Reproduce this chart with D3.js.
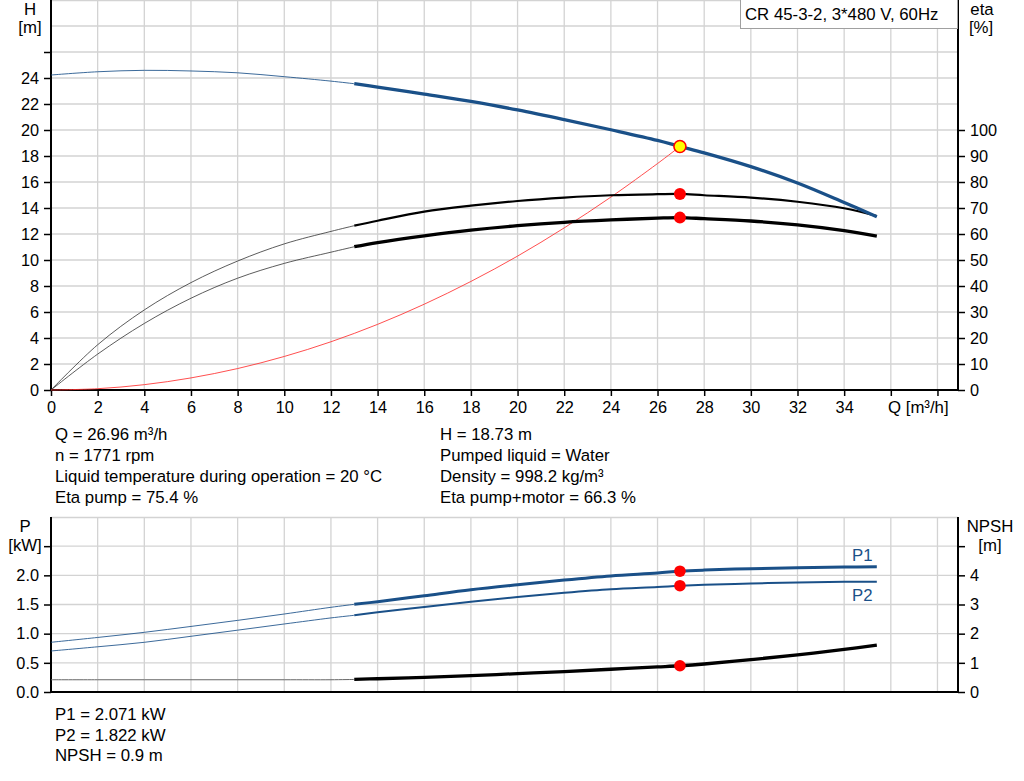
<!DOCTYPE html>
<html>
<head>
<meta charset="utf-8">
<script src="https://cdn.jsdelivr.net/npm/d3@7"></script>
<style>
  body { margin: 0; background: #fff; }
  svg { font-family: "Liberation Sans", Arial, sans-serif; }
  .grid line { stroke: #d3d3d3; stroke-width: 1.3; }
  .info { font-size: 16.8px; fill: #000; }
</style>
</head>
<body>
<div id="chart"></div>
<script>
// flow points the curves were read at (m3/h)
var qPts = [0, 2, 4, 6, 8, 10, 12, 13, 14, 16, 18, 20, 22, 24, 26, 26.96, 28, 30, 32, 34, 35.4];
var headVals = [24.23, 24.48, 24.59, 24.54, 24.40, 24.10, 23.76, 23.56, 23.30, 22.76, 22.20, 21.54, 20.80, 20.02, 19.20, 18.73, 18.24, 17.18, 15.92, 14.42, 13.33];
var etaPump = [0, 17.4, 30.8, 41.3, 49.6, 56.2, 61.0, 63.2, 65.1, 68.6, 70.9, 72.7, 74.0, 74.9, 75.3, 75.4, 74.9, 74.0, 72.4, 69.9, 66.9];
var etaTotal = [0, 13.8, 25.6, 35.3, 43.0, 48.7, 53.0, 55.1, 56.7, 59.3, 61.5, 63.2, 64.5, 65.4, 66.1, 66.3, 65.9, 65.0, 63.5, 61.3, 59.2];
var p1Vals = [0.852, 0.935, 1.023, 1.124, 1.228, 1.337, 1.452, 1.503, 1.548, 1.651, 1.754, 1.84, 1.92, 1.99, 2.04, 2.071, 2.09, 2.114, 2.13, 2.143, 2.146];
var p2Vals = [0.703, 0.775, 0.852, 0.955, 1.06, 1.166, 1.27, 1.315, 1.366, 1.457, 1.548, 1.63, 1.70, 1.76, 1.80, 1.822, 1.838, 1.86, 1.878, 1.888, 1.89];
var npshVals = [0.42, 0.42, 0.42, 0.42, 0.42, 0.42, 0.42, 0.43, 0.455, 0.50, 0.56, 0.63, 0.70, 0.78, 0.86, 0.90, 0.96, 1.11, 1.27, 1.46, 1.61];

// system curve up to the duty point
var qSys = [0, 2, 4, 6, 8, 10, 12, 14, 16, 18, 20, 22, 24, 26, 26.96];
var hSys = [0, 0.10, 0.41, 0.93, 1.65, 2.58, 3.71, 5.05, 6.60, 8.35, 10.30, 12.47, 14.84, 17.42, 18.73];

// duty point
var duty = { q: 26.96, h: 18.73, etaP: 75.4, etaT: 66.3, p1: 2.071, p2: 1.822, npsh: 0.9 };

var xTicks = d3.range(0, 39, 2);        // 0..38
var xLabels = d3.range(0, 35, 2);       // 0..34 printed
var hTicks = d3.range(0, 27, 2);
var hLabels = d3.range(0, 25, 2);
var etaLabels = d3.range(0, 101, 10);
var pTicks = [0, 0.5, 1.0, 1.5, 2.0, 2.5];
var pLabels = [0, 0.5, 1.0, 1.5, 2.0];
var npshTicks = [0, 1, 2, 3, 4, 5];
var npshLabels = [0, 1, 2, 3, 4];

var leftCol = ["Q = 26.96 m³/h", "n = 1771 rpm", "Liquid temperature during operation = 20 °C", "Eta pump = 75.4 %"];
var rightCol = ["H = 18.73 m", "Pumped liquid = Water", "Density = 998.2 kg/m³", "Eta pump+motor = 66.3 %"];
var lowerInfo = ["P1 = 2.071 kW", "P2 = 1.822 kW", "NPSH = 0.9 m"];

var BLUE = "#1a5088";
var FS = 16.8;   // text size
var W = 1024, H = 781;
var x0 = 51, x1 = 958;

var svg = d3.select("#chart").append("svg")
  .attr("width", W).attr("height", H);

var x = d3.scaleLinear().domain([0, 38.88]).range([x0, x1]);
var yH = d3.scaleLinear().domain([0, 30]).range([390, 0]);
var yEta = d3.scaleLinear().domain([0, 150]).range([390, 0]);
var yP = d3.scaleLinear().domain([0, 3]).range([692, 517]);
var yN = d3.scaleLinear().domain([0, 6]).range([692, 517]);

function pts(qs, vs) {
  return qs.map(function(q, i) { return [q, vs[i]]; });
}
function thin(arr) { return arr.filter(function(d) { return d[0] <= 13; }); }
function thick(arr) { return arr.filter(function(d) { return d[0] >= 13; }); }

function lineFor(yScale) {
  return d3.line()
    .x(function(d) { return x(d[0]); })
    .y(function(d) { return yScale(d[1]); })
    .curve(d3.curveCatmullRom.alpha(0.5));
}

// draws a panel frame: grid + top border
function panel(yScale, yTop, yBot, gridVals) {
  var grid = svg.append("g").attr("class", "grid");
  grid.selectAll(".v").data(xTicks.slice(1))
    .enter().append("line")
    .attr("x1", function(d) { return x(d); }).attr("x2", function(d) { return x(d); })
    .attr("y1", yTop).attr("y2", yBot);
  grid.selectAll(".h").data(gridVals)
    .enter().append("line")
    .attr("x1", x0).attr("x2", x1)
    .attr("y1", function(d) { return yScale(d); }).attr("y2", function(d) { return yScale(d); });
  grid.append("line").attr("x1", x0).attr("x2", x1).attr("y1", yTop + 0.5).attr("y2", yTop + 0.5);
  return grid;
}

function sideAxis(axis, xpos, labelsShown) {
  var g = svg.append("g")
    .attr("transform", "translate(" + xpos + ",0)")
    .call(axis);
  g.select(".domain").attr("stroke", "#000").attr("stroke-width", 2);
  g.selectAll(".tick line").attr("stroke", "#000").attr("stroke-width", 1.5);
  g.selectAll(".tick text")
    .attr("font-size", 16.3)
    .attr("fill", "#000")
    .text(function(d) {
      return labelsShown.indexOf(d) >= 0 ? axis.tickFormat()(d) : "";
    });
  return g;
}

function label(xp, yp, txt, anchor, color) {
  return svg.append("text").attr("x", xp).attr("y", yp)
    .attr("font-size", FS).attr("text-anchor", anchor || "start")
    .attr("fill", color || "#000").text(txt);
}

/***************** top chart *****************/
panel(yH, 0, 390, d3.range(2, 29, 2));

// left H axis
sideAxis(d3.axisLeft(yH).tickValues(hTicks).tickSize(7).tickPadding(5)
  .tickSizeOuter(0).tickFormat(d3.format("d")), x0, hLabels)
  .select(".domain").attr("d", "M0,0V390");
// right eta axis
sideAxis(d3.axisRight(yEta).tickValues(etaLabels).tickSize(7).tickPadding(5)
  .tickSizeOuter(0).tickFormat(d3.format("d")), x1, etaLabels)
  .select(".domain").attr("d", "M0,0V390");

// bottom Q axis
var xa = svg.append("g")
  .attr("transform", "translate(0,390)")
  .call(d3.axisBottom(x).tickValues(xTicks).tickSize(6).tickPadding(5).tickSizeOuter(0)
    .tickFormat(function(d) { return xLabels.indexOf(d) >= 0 ? d : ""; }));
xa.select(".domain").attr("stroke", "#000").attr("stroke-width", 2)
  .attr("d", "M" + x0 + ",0H" + x1);
xa.selectAll(".tick line").attr("stroke", "#000").attr("stroke-width", 1.5);
xa.selectAll(".tick text").attr("font-size", 16.3).attr("fill", "#000");

label(888, 413, "Q [m³/h]");

// axis titles
label(30, 15, "H", "middle");
label(30, 33, "[m]", "middle");
label(982, 15, "eta", "middle");
label(981, 33, "[%]", "middle");

// title box
svg.append("rect").attr("x", 740.5).attr("y", -1).attr("width", 217).attr("height", 29.5)
  .attr("fill", "#fff").attr("stroke", "#a0a0a0").attr("stroke-width", 1);
label(745, 20, "CR 45-3-2, 3*480 V, 60Hz");

var lineH = lineFor(yH), lineEta = lineFor(yEta);
var headPts = pts(qPts, headVals), etaPPts = pts(qPts, etaPump), etaTPts = pts(qPts, etaTotal);

// thin parts (outside recommended range)
svg.append("path").attr("d", lineH(thin(headPts))).attr("fill", "none").attr("stroke", BLUE).attr("stroke-width", 1).attr("opacity", 0.85);
svg.append("path").attr("d", lineEta(thin(etaPPts))).attr("fill", "none").attr("stroke", "#333").attr("stroke-width", 1).attr("opacity", 0.8);
svg.append("path").attr("d", lineEta(thin(etaTPts))).attr("fill", "none").attr("stroke", "#333").attr("stroke-width", 1).attr("opacity", 0.8);

// system curve
svg.append("path").attr("d", lineH(pts(qSys, hSys))).attr("fill", "none")
  .attr("stroke", "#ff3030").attr("stroke-width", 1).attr("opacity", 0.85);

// thick parts
svg.append("path").attr("d", lineEta(thick(etaPPts))).attr("fill", "none").attr("stroke", "#000").attr("stroke-width", 2.2);
svg.append("path").attr("d", lineEta(thick(etaTPts))).attr("fill", "none").attr("stroke", "#000").attr("stroke-width", 3.3);
svg.append("path").attr("d", lineH(thick(headPts))).attr("fill", "none").attr("stroke", BLUE).attr("stroke-width", 3.3);

// duty point markers
svg.append("circle").attr("cx", x(duty.q)).attr("cy", yEta(duty.etaP)).attr("r", 6).attr("fill", "#ff0000");
svg.append("circle").attr("cx", x(duty.q)).attr("cy", yEta(duty.etaT)).attr("r", 6).attr("fill", "#ff0000");
svg.append("circle").attr("cx", x(duty.q)).attr("cy", yH(duty.h)).attr("r", 6)
  .attr("fill", "#ffff00").attr("stroke", "#ff0000").attr("stroke-width", 1.6);

/***************** info text *****************/
svg.selectAll(".infoL").data(leftCol).enter().append("text")
  .attr("class", "info").attr("x", 55)
  .attr("y", function(d, i) { return 440 + i * 21; })
  .text(function(d) { return d; });
svg.selectAll(".infoR").data(rightCol).enter().append("text")
  .attr("class", "info").attr("x", 440)
  .attr("y", function(d, i) { return 440 + i * 21; })
  .text(function(d) { return d; });

/***************** lower chart *****************/
panel(yP, 517, 692, [0.5, 1.0, 1.5, 2.0, 2.5]);

sideAxis(d3.axisLeft(yP).tickValues(pTicks).tickSize(7).tickPadding(5)
  .tickSizeOuter(0).tickFormat(d3.format(".1f")), x0, pLabels)
  .select(".domain").attr("d", "M0,517V692");
sideAxis(d3.axisRight(yN).tickValues(npshTicks).tickSize(7).tickPadding(5)
  .tickSizeOuter(0).tickFormat(d3.format("d")), x1, npshLabels)
  .select(".domain").attr("d", "M0,517V692");

svg.append("line").attr("x1", x0).attr("x2", x1).attr("y1", 692).attr("y2", 692)
  .attr("stroke", "#000").attr("stroke-width", 2);

label(25, 532, "P", "middle");
label(25, 551, "[kW]", "middle");
label(990, 532, "NPSH", "middle");
label(990, 551, "[m]", "middle");

var lineP = lineFor(yP), lineN = lineFor(yN);
var p1Pts = pts(qPts, p1Vals), p2Pts = pts(qPts, p2Vals), nPts = pts(qPts, npshVals);

svg.append("path").attr("d", lineP(thin(p1Pts))).attr("fill", "none").attr("stroke", BLUE).attr("stroke-width", 1).attr("opacity", 0.85);
svg.append("path").attr("d", lineP(thin(p2Pts))).attr("fill", "none").attr("stroke", BLUE).attr("stroke-width", 1).attr("opacity", 0.85);
svg.append("path").attr("d", lineN(thin(nPts))).attr("fill", "none").attr("stroke", "#666").attr("stroke-width", 1);

svg.append("path").attr("d", lineP(thick(p1Pts))).attr("fill", "none").attr("stroke", BLUE).attr("stroke-width", 3);
svg.append("path").attr("d", lineP(thick(p2Pts))).attr("fill", "none").attr("stroke", BLUE).attr("stroke-width", 2);
svg.append("path").attr("d", lineN(thick(nPts))).attr("fill", "none").attr("stroke", "#000").attr("stroke-width", 3.3);

label(852, 561, "P1", "start", BLUE);
label(852, 601, "P2", "start", BLUE);

svg.append("circle").attr("cx", x(duty.q)).attr("cy", yP(duty.p1)).attr("r", 5.8).attr("fill", "#ff0000");
svg.append("circle").attr("cx", x(duty.q)).attr("cy", yP(duty.p2)).attr("r", 5.8).attr("fill", "#ff0000");
svg.append("circle").attr("cx", x(duty.q)).attr("cy", yN(duty.npsh)).attr("r", 5.8).attr("fill", "#ff0000");

svg.selectAll(".infoB").data(lowerInfo).enter().append("text")
  .attr("class", "info").attr("x", 55)
  .attr("y", function(d, i) { return 720 + i * 20.7; })
  .text(function(d) { return d; });
</script>
</body>
</html>
